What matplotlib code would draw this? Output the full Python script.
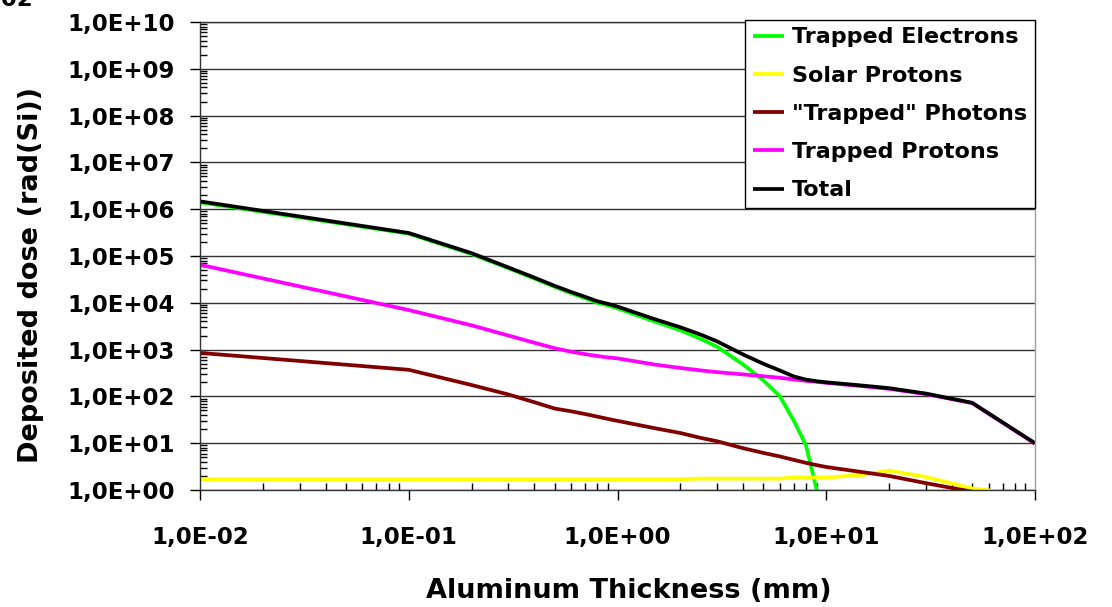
import numpy as np
import matplotlib
matplotlib.use('Agg')
import matplotlib.pyplot as plt
from matplotlib.ticker import LogLocator, FuncFormatter, NullFormatter

plt.rcParams['font.family'] = ['DejaVu Sans']
plt.rcParams['font.weight'] = 'bold'

# Aluminum thickness (mm)
thickness = [0.01, 0.1, 0.2, 0.3, 0.4, 0.5, 0.6, 0.7, 0.8, 0.9, 1, 1.5, 2, 2.5, 3,
             4, 5, 6, 7, 8, 9, 10, 15, 20, 30, 50, 100]

# Deposited dose (rad(Si)); nan = not plotted
trapped_electrons = [1.4e6, 3.0e5, 1.1e5, 5.5e4, 3.3e4, 2.2e4, 1.6e4, 1.25e4, 1.0e4, 8.8e3, 7.6e3,
                     4.0e3, 2.6e3, 1.7e3, 1.15e3, 480, 220, 100, 30, 9, 1.0, 0.1,
                     np.nan, np.nan, np.nan, np.nan, np.nan]
solar_protons = [1.7, 1.7, 1.7, 1.7, 1.7, 1.7, 1.7, 1.7, 1.7, 1.7, 1.7,
                 1.7, 1.7, 1.75, 1.75, 1.75, 1.75, 1.75, 1.85, 1.85, 1.85, 1.85,
                 2.1, 2.6, 1.9, 1.08, 0.75]
trapped_photons = [850, 370, 175, 110, 75, 55, 48, 42, 37, 33, 30,
                   21, 16.5, 13, 11, 7.8, 6.2, 5.2, 4.4, 3.8, 3.4, 3.1,
                   2.4, 2.0, 1.4, 0.92, 0.3]
trapped_protons = [6.5e4, 7.0e3, 3.3e3, 2.0e3, 1.4e3, 1.07e3, 900, 800, 730, 680, 650,
                   480, 405, 360, 330, 295, 270, 250, 230, 215, 205, 195,
                   165, 145, 112, 72, 9.8]
total = [1.47e6, 3.1e5, 1.15e5, 5.7e4, 3.45e4, 2.3e4, 1.7e4, 1.34e4, 1.08e4, 9.5e3, 8.3e3,
         4.5e3, 3.0e3, 2.1e3, 1.5e3, 785, 498, 357, 266, 228, 211, 200,
         170, 150, 115, 73, 10]

series = [
    ('Trapped Electrons', trapped_electrons, '#00ff00'),
    ('Solar Protons', solar_protons, '#ffff00'),
    ('"Trapped" Photons', trapped_photons, '#800000'),
    ('Trapped Protons', trapped_protons, '#ff00ff'),
    ('Total', total, '#000000'),
]

fig = plt.figure(figsize=(11.12, 6.07), dpi=100)
ax = fig.add_axes([200 / 1112, 1 - 490 / 607, 835 / 1112, 468 / 607])

for name, vals, col in series:
    ax.plot(thickness, vals, color=col, lw=2.7, label=name, solid_capstyle='butt')

ax.set_xscale('log')
ax.set_yscale('log')
ax.set_xlim(1e-2, 1e2)
ax.set_ylim(1e0, 1e10)


def sci_fmt(v, pos):
    e = int(round(np.log10(v)))
    return '1,0E{}{:02d}'.format('+' if e >= 0 else '-', abs(e))


ax.xaxis.set_major_locator(LogLocator(base=10, numticks=10))
ax.yaxis.set_major_locator(LogLocator(base=10, numticks=12))
ax.xaxis.set_minor_locator(LogLocator(base=10, subs=np.arange(2, 10), numticks=20))
ax.yaxis.set_minor_locator(LogLocator(base=10, subs=np.arange(2, 10), numticks=20))
ax.xaxis.set_major_formatter(FuncFormatter(sci_fmt))
ax.yaxis.set_major_formatter(FuncFormatter(sci_fmt))
ax.xaxis.set_minor_formatter(NullFormatter())
ax.yaxis.set_minor_formatter(NullFormatter())

ax.tick_params(axis='both', which='major', direction='out', length=7, width=1, labelsize=16.5)
ax.tick_params(axis='both', which='minor', direction='in', length=5, width=1)
ax.tick_params(axis='y', which='major', pad=11)
ax.tick_params(axis='x', which='major', pad=19)
for lab in ax.get_xticklabels() + ax.get_yticklabels():
    lab.set_fontweight('bold')

ax.grid(True, which='major', axis='y', color='#333333', lw=1)
ax.set_axisbelow(True)
ax.spines['left'].set_color('#333333')
ax.spines['bottom'].set_color('#333333')
ax.spines['top'].set_color('#333333')
ax.spines['right'].set_color('#a0a0a0')
for s in ax.spines.values():
    s.set_linewidth(1)

ax.set_xlabel('Aluminum Thickness (mm)', fontsize=19.5, fontweight='bold', va='center')
ax.set_ylabel('Deposited dose (rad(Si))', fontsize=19.5, fontweight='bold', va='center')
ax.xaxis.set_label_coords((629 - 200) / 835, (490 - 591) / 468)
ax.yaxis.set_label_coords((31 - 200) / 835, (490 - 275) / 468)

leg = ax.legend(loc='upper right', bbox_to_anchor=(1.0, 1.005), borderaxespad=0,
                fancybox=False, shadow=False, framealpha=1, edgecolor='#000000',
                prop={'size': 16, 'weight': 'bold'}, handlelength=1.4,
                handletextpad=0.35, labelspacing=0.82, borderpad=0.35)
leg.get_frame().set_linewidth(1)

# clipped stray label at the top left corner
fig.text(33 / 1112, 1 - 6 / 607, '1,0E-02', ha='right', va='baseline',
         fontsize=16.5, fontweight='bold')

fig.savefig('out.png', dpi=100)
